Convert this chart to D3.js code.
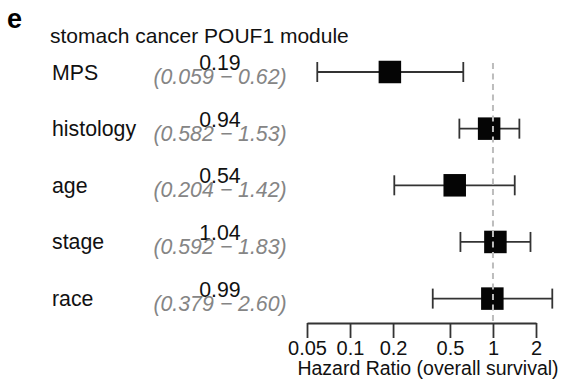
<!DOCTYPE html>
<html>
<head>
<meta charset="utf-8">
<script src="https://cdn.jsdelivr.net/npm/d3@7"></script>
<style>
  body { margin: 0; background: #fff; }
  svg { font-family: "Liberation Sans", Arial, sans-serif; }
</style>
</head>
<body>
<div id="chart"></div>
<script>
// hazard ratios per covariate, with 95% CI
const covariates = ['MPS', 'histology', 'age', 'stage', 'race'];
const hazardRatio = [0.19, 0.94, 0.54, 1.04, 0.99];
const hrLabels = ['0.19', '0.94', '0.54', '1.04', '0.99'];
const ciLower = [0.059, 0.582, 0.204, 0.592, 0.379];
const ciUpper = [0.62, 1.53, 1.42, 1.83, 2.60];
const ciLabels = ['0.059', '0.582', '0.204', '0.592', '0.379'];
const ciUpperLabels = ['0.62', '1.53', '1.42', '1.83', '2.60'];
const tickValues = [0.05, 0.1, 0.2, 0.5, 1, 2];

const width = 561, height = 391;

const svg = d3.select('#chart')
  .append('svg')
  .attr('width', width)
  .attr('height', height);

const x = d3.scaleLog().domain([0.05, 2]).range([307, 536]);
const y = d3.scalePoint().domain(covariates).range([72, 298.6]);

// panel letter + title
svg.append('text')
  .attr('x', 7).attr('y', 28)
  .attr('font-size', 27).attr('font-weight', 'bold')
  .text('e');

svg.append('text')
  .attr('x', 50).attr('y', 43)
  .attr('font-size', 21).attr('fill', '#111')
  .text('stomach cancer POUF1 module');

const axisY = 323;

const rows = covariates.map((c, i) => ({
  name: c, hr: hazardRatio[i], lo: ciLower[i], hi: ciUpper[i],
  hrText: hrLabels[i], ciText: '(' + ciLabels[i] + ' \u2212 ' + ciUpperLabels[i] + ')'
}));

// left text columns
svg.selectAll('.lab')
  .data(rows).enter().append('text')
  .attr('x', 52)
  .attr('y', d => y(d.name) + 7.5)
  .attr('font-size', 21.3).attr('fill', '#111')
  .text(d => d.name);

svg.selectAll('.hr')
  .data(rows).enter().append('text')
  .attr('x', 220)
  .attr('y', d => y(d.name) - 2)
  .attr('text-anchor', 'middle')
  .attr('font-size', 21.3).attr('fill', '#111')
  .text(d => d.hrText);

svg.selectAll('.ci')
  .data(rows).enter().append('text')
  .attr('x', 220)
  .attr('y', d => y(d.name) + 12)
  .attr('text-anchor', 'middle')
  .attr('font-size', 21.3).attr('font-style', 'italic').attr('fill', '#858585')
  .text(d => d.ciText);

// error bars
const bars = svg.selectAll('.bar').data(rows).enter().append('g')
  .attr('stroke', '#333').attr('stroke-width', 1.8);

bars.append('line')
  .attr('x1', d => x(d.lo)).attr('x2', d => x(d.hi))
  .attr('y1', d => y(d.name)).attr('y2', d => y(d.name));
bars.append('line')
  .attr('x1', d => x(d.lo)).attr('x2', d => x(d.lo))
  .attr('y1', d => y(d.name) - 10).attr('y2', d => y(d.name) + 10);
bars.append('line')
  .attr('x1', d => x(d.hi)).attr('x2', d => x(d.hi))
  .attr('y1', d => y(d.name) - 10).attr('y2', d => y(d.name) + 10);

const sq = 22.5;
svg.selectAll('.pt')
  .data(rows).enter().append('rect')
  .attr('x', d => x(d.hr) - sq / 2)
  .attr('y', d => y(d.name) - sq / 2)
  .attr('width', sq).attr('height', sq)
  .attr('fill', '#050505');

// reference line at HR = 1
svg.append('line')
  .attr('x1', x(1)).attr('x2', x(1))
  .attr('y1', 63).attr('y2', axisY)
  .attr('stroke', '#bdbdbd').attr('stroke-width', 2)
  .attr('stroke-dasharray', '6,4.5');

// axis
const axis = svg.append('g')
  .attr('transform', 'translate(0,' + axisY + ')')
  .call(d3.axisBottom(x).tickValues(tickValues).tickFormat(d3.format('')).tickSizeInner(15).tickSizeOuter(0).tickPadding(3));

axis.select('.domain').attr('stroke', '#333').attr('stroke-width', 1.8);
axis.selectAll('.tick line').attr('stroke', '#333').attr('stroke-width', 1.8);
axis.selectAll('.tick text')
  .attr('font-size', 20).attr('fill', '#111')
  .attr('font-family', '"Liberation Sans", Arial, sans-serif');

svg.append('text')
  .attr('x', 428).attr('y', 375)
  .attr('text-anchor', 'middle')
  .attr('font-size', 19.5).attr('fill', '#111')
  .text('Hazard Ratio (overall survival)');
</script>
</body>
</html>
